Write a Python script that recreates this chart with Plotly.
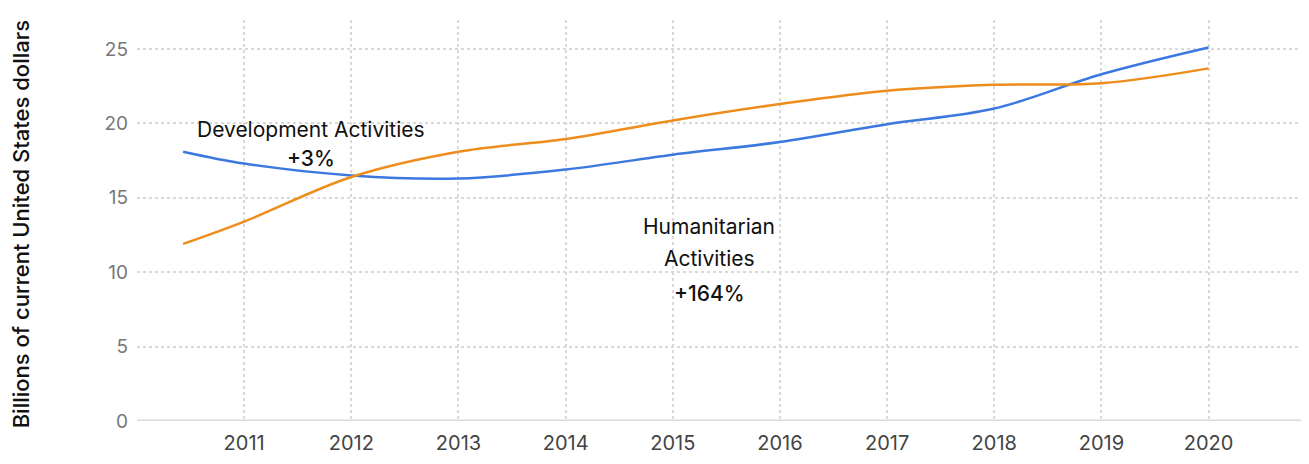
import plotly.graph_objects as go

years = [2010.43, 2011, 2012, 2013, 2014, 2015, 2016, 2017, 2018, 2019, 2020]
development = [18.1, 17.3, 16.5, 16.3, 16.9, 17.9, 18.75, 19.95, 21.0, 23.3, 25.1]
humanitarian = [11.9, 13.4, 16.4, 18.1, 18.95, 20.2, 21.3, 22.2, 22.6, 22.7, 23.7]
tick_years = [2011, 2012, 2013, 2014, 2015, 2016, 2017, 2018, 2019, 2020]
y_ticks = [0, 5, 10, 15, 20, 25]
y_title = "Billions of current United States dollars"
dev_label = ["Development Activities", "+3%"]
hum_label = ["Humanitarian", "Activities", "+164%"]

FONT = "Inter"

fig = go.Figure()
fig.add_trace(go.Scatter(x=years, y=development, mode="lines",
                         line=dict(color="#3b78e0", width=2.5, shape="spline", smoothing=1.0),
                         name="Development Activities", hoverinfo="skip"))
fig.add_trace(go.Scatter(x=years, y=humanitarian, mode="lines",
                         line=dict(color="#ee8c1c", width=2.5, shape="spline", smoothing=1.0),
                         name="Humanitarian Activities", hoverinfo="skip"))

for txt, yy, w in zip(dev_label, [19.56, 17.67], [400, 500]):
    fig.add_annotation(x=2011.625, y=yy, xref="x", yref="y", text=txt, showarrow=False,
                       font=dict(family=FONT, size=21, color="#111111", weight=w))
for txt, yy, w in zip(hum_label, [13.04, 10.89, 8.6], [400, 400, 500]):
    fig.add_annotation(x=2015.34, y=yy, xref="x", yref="y", text=txt, showarrow=False,
                       font=dict(family=FONT, size=21, color="#111111", weight=w))

fig.add_annotation(x=-0.099, y=1.005, xref="paper", yref="paper", xanchor="center",
                   yanchor="top", text=y_title, textangle=-90, showarrow=False,
                   font=dict(family=FONT, size=22, color="#111111", weight=500))

fig.update_layout(
    width=1309, height=464,
    margin=dict(l=129, r=12, t=12, b=51),
    paper_bgcolor="white", plot_bgcolor="white",
    showlegend=False,
    font=dict(family=FONT),
    xaxis=dict(range=[2010.0, 2020.9], tickvals=tick_years, ticktext=[str(t) for t in tick_years],
               showgrid=True, gridcolor="#d9d9d9", griddash="dot", gridwidth=1.5,
               showline=False, zeroline=False, ticks="", ticklabelstandoff=8,
               tickfont=dict(family=FONT, size=20, color="#444444")),
    yaxis=dict(range=[0, 26.95], tickvals=y_ticks,
               showgrid=True, gridcolor="#d9d9d9", griddash="dot", gridwidth=1.5,
               zeroline=False, showline=False, ticks="", ticklabelstandoff=8,
               tickfont=dict(family=FONT, size=19, color="#777777")),
)
fig.add_shape(type="line", xref="paper", yref="y", x0=0, x1=1, y0=0, y1=0,
              line=dict(color="#d9d9d9", width=3))

fig.write_html("out.html")
